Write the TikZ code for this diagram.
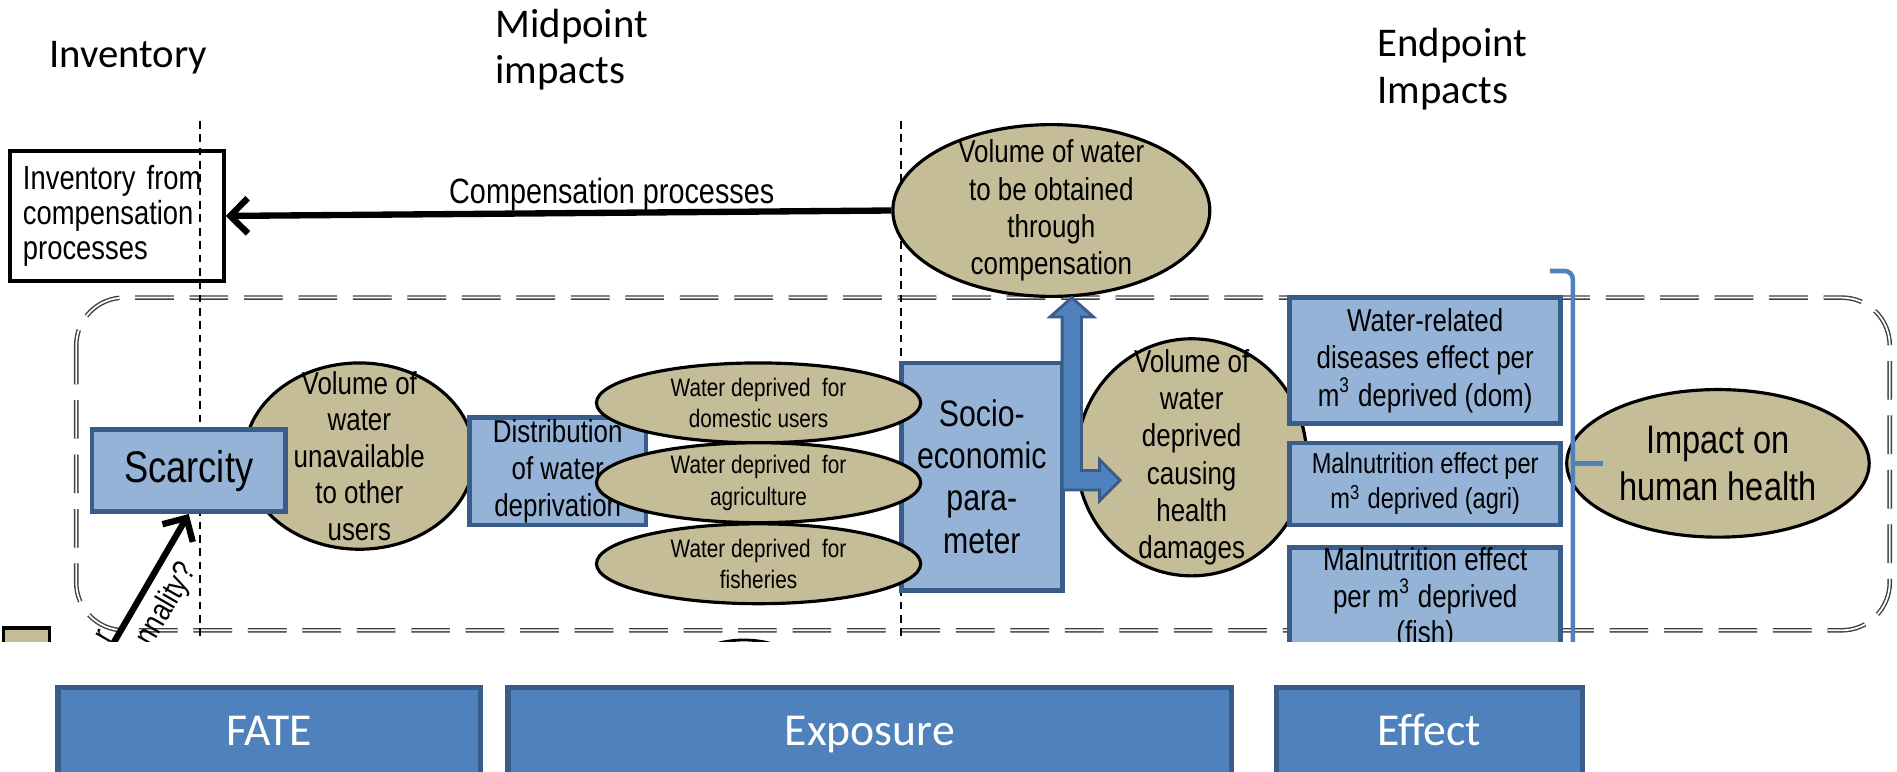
\documentclass[tikz,border=0pt]{standalone}
\usepackage{fontspec}
\setmainfont{Carlito}
\newfontfamily\narrowfont{Liberation Sans}[FakeStretch=0.82]
\usetikzlibrary{calc}
\usetikzlibrary{arrows.meta}
\usetikzlibrary{shapes.geometric}

\definecolor{tanfill}{RGB}{196,189,151}
\definecolor{boxfill}{RGB}{149,179,215}
\definecolor{boxedge}{RGB}{56,93,138}
\definecolor{barfill}{RGB}{79,129,189}
\definecolor{baredge}{RGB}{56,93,138}

\newcommand{\pxu}{0.121mm}
\newcommand{\nfont}[2]{\narrowfont\fontsize{#1}{#2}\selectfont}

\begin{document}
\begin{tikzpicture}[x=0.121mm, y=-0.121mm,
  tanell/.style={ellipse, draw=black, line width=0.9pt, fill=tanfill, inner sep=0pt},
  bluebox/.style={rectangle, draw=boxedge, line width=1.3pt, fill=boxfill, inner sep=0pt, align=center},
  nodetext/.style={align=center, inner sep=0pt},
  header/.style={font=\fontsize{11.6}{13.2}\selectfont, align=left, inner sep=0pt},
  guide/.style={black, line width=0.5pt, dash pattern=on 2.2pt off 1.6pt},
  lcaframe/.style={draw=black!75, line width=0.4pt, double=white, double distance=0.5pt,
    dash pattern=on 11pt off 4.5pt, rounded corners=4.8mm},
  bigarrow/.style={line width=1.8pt, -{Straight Barb[length=5pt, width=10pt]}},
  blockarrow/.style={fill=barfill, draw=baredge, line width=0.8pt},
  bracket/.style={draw=barfill, line width=1.3pt},
  phasebar/.style={rectangle, draw=baredge, line width=1.5pt, fill=barfill, text=white,
    inner sep=0pt, text height=9pt, text depth=2.5pt, font=\fontsize{13}{15}\selectfont}]
\useasboundingbox (0,0) rectangle (1568,638);

% column headers
\node[header, anchor=west] (invhead) at (40,48) {Inventory};
\node[header, anchor=west] (midhead) at (409,41) {Midpoint\\impacts};
\node[header, anchor=west] (endhead) at (1138,57) {Endpoint\\Impacts};

\begin{scope}
\clip (0,0) rectangle (1568,530);
\draw[lcaframe] (63,246) rectangle (1562,521);

\node[rectangle, draw=black, line width=1.1pt, fill=white, minimum width=177*\pxu, minimum height=107*\pxu,
  text width=155*\pxu, align=left, inner sep=0pt, font=\nfont{9.5}{10}] (invbox) at (96.5,178.5)
  {Inventory from\\compensation\\processes};

\foreach \x in {165,745}
  \draw[guide] (\x,100) -- (\x,530);

% compensation
\node[tanell, minimum width=262*\pxu, minimum height=142*\pxu] (comp) at (869,174) {};
\node[nodetext, font=\nfont{9}{10.6}] (comptxt) at (comp) {Volume of water\\to be obtained\\through\\compensation};
\draw[bigarrow] (comp.west) -- node[above, pos=0.42, inner sep=0pt, yshift=-0.4pt, font=\nfont{10}{12}] (complbl)
  {Compensation processes} (invbox.east);

% fate
\node[tanell, minimum width=190*\pxu, minimum height=154*\pxu] (unavail) at (297,377) {};
\node[nodetext, font=\nfont{9}{10.4}] (unavailtxt) at (unavail) {Volume of\\water\\unavailable\\to other\\users};
\node[bluebox, minimum width=160*\pxu, minimum height=68*\pxu, font=\nfont{12.6}{14}] (scar) at (156,389) {Scarcity};

% exposure
\node[bluebox, minimum width=146*\pxu, minimum height=89*\pxu, font=\nfont{9}{10.5}] (distr) at (461,389.5)
  {Distribution\\of water\\deprivation};
\node[bluebox, minimum width=133*\pxu, minimum height=188*\pxu, font=\nfont{10.5}{12}] (socio) at (811.5,394)
  {Socio-\\economic\\para-\\meter};
\foreach \y/\what [count=\i] in {333/domestic users, 399/agriculture, 466/fisheries}
  \node[tanell, minimum width=268*\pxu, minimum height=66*\pxu, align=center, font=\nfont{7.2}{9}] (wd\i) at (627,\y)
    {Water deprived~ for\\\what};

\node[tanell, minimum width=190*\pxu, minimum height=196*\pxu] (depr) at (985,378) {};
\node[nodetext, font=\nfont{9}{10.6}] (deprtxt) at (depr) {Volume of\\water\\deprived\\causing\\health\\damages};

\coordinate (bend) at ($(socio.east)+(6,3)$);
\filldraw[blockarrow, shift={(bend)}] (-8,8) -- (23,8) -- (23,17) -- (40,0) -- (23,-17) -- (23,-8) -- (8,-8)
  -- (8,-135) -- (18,-135) -- (0,-151) -- (-18,-135) -- (-8,-135) -- cycle;

% effect
\node[bluebox, minimum width=224*\pxu, minimum height=104*\pxu, font=\nfont{9}{10.7}] (dom) at (1178,298)
  {Water-related\\diseases effect per\\m\textsuperscript{3} deprived (dom)};
\node[bluebox, minimum width=224*\pxu, minimum height=68*\pxu, font=\nfont{8.2}{10}] (agri) at (1178,400)
  {Malnutrition effect per\\m\textsuperscript{3} deprived (agri)};
\node[bluebox, minimum width=224*\pxu, minimum height=80*\pxu, font=\nfont{9}{10.4}] (fish) at (1178,495)
  {Malnutrition effect\\per m\textsuperscript{3} deprived\\(fish)};

\node[tanell, minimum width=250*\pxu, minimum height=122*\pxu] (impact) at (1420,383) {};
\node[nodetext, font=\nfont{11.3}{13.4}] (impacttxt) at (impact) {Impact on\\human health};
\draw[bracket, rounded corners=0.8mm] (1281,224) -- (1300,224) -- (1300,540);
\draw[bracket] (1300,383) -- (1325,383);

% cut off at the lower edge
\draw[black, line width=1pt, fill=tanfill] (3,519) rectangle (41,560);
\draw[black, line width=0.8pt] (615,570) ellipse [x radius=60*\pxu, y radius=41*\pxu];
\coordinate (seasonsrc) at (76,562);
\draw[bigarrow] (seasonsrc) -- (scar.south);
\node[rotate=60, inner sep=0pt, font=\nfont{9}{10}] (seasonlbl) at (138,500) {nnality?};
\node[rotate=60, inner sep=0pt, font=\nfont{9}{10}] (seasonfrag) at (86,526) {r};
\end{scope}

% phases
\foreach \cx/\w/\name in {222.5/349/FATE, 719/598/Exposure, 1181.5/253/Effect}
  \node[phasebar, minimum width=\w*\pxu, minimum height=78*\pxu] (\name) at (\cx,607) {\name};
\end{tikzpicture}
\end{document}
